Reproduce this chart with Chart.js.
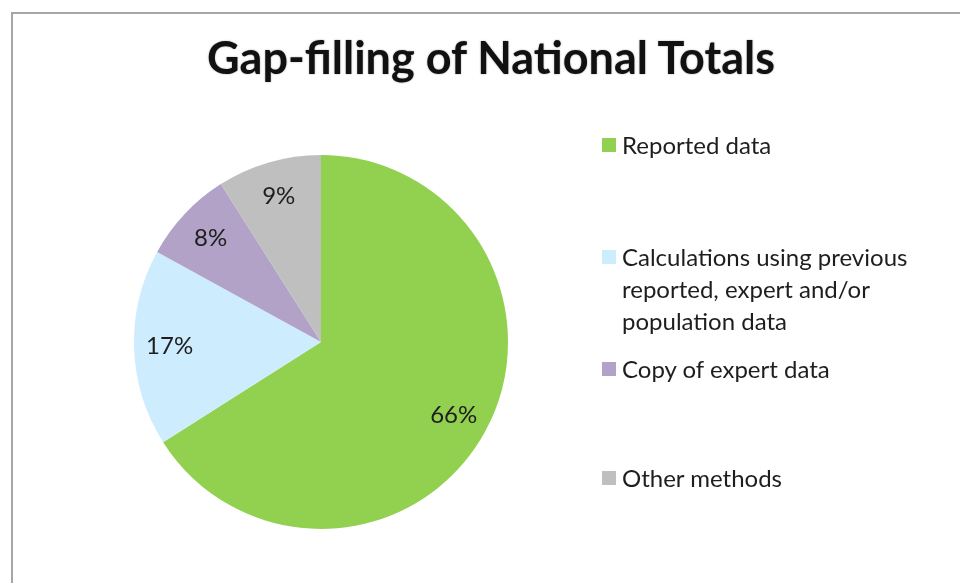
<!DOCTYPE html>
<html>
<head>
<meta charset="utf-8">
<script src="https://cdn.jsdelivr.net/npm/chart.js@4"></script>
<style>
  html, body { margin: 0; padding: 0; background: #fff; }
  #wrap { position: relative; width: 960px; height: 583px; overflow: hidden; }
  #frame { position: absolute; left: 11px; top: 12px; width: 960px; height: 600px;
           border-top: 2px solid #a6a6a6; border-left: 2px solid #a6a6a6; }
  #chart { position: absolute; left: 0; top: 0; }
  #title { position: absolute; left: 0; width: 982px; top: 30px; text-align: center;
           font: bold 45px "Lato", sans-serif; color: #111;
           text-shadow: 0 0 2px rgba(0,0,0,0.35); }
  #legend { position: absolute; left: 602px; top: 0; font: 24px "Lato", sans-serif; color: #1e1e1e; }
  .item { position: absolute; left: 0; width: 360px; line-height: 32px; }
  .item .box { position: absolute; left: 0; top: 9px; width: 14px; height: 14px; }
  .item .txt { position: absolute; left: 20px; white-space: nowrap; }
</style>
</head>
<body>
<div id="wrap">
  <div id="frame"></div>
  <canvas id="chart" width="960" height="583"></canvas>
  <div id="title">Gap-filling of National Totals</div>
  <div id="legend"></div>
</div>
<script>
const labels = [
  "Reported data",
  "Calculations using previous reported, expert and/or population data",
  "Copy of expert data",
  "Other methods"
];
const legendLines = [
  ["Reported data"],
  ["Calculations using previous", "reported, expert and/or", "population data"],
  ["Copy of expert data"],
  ["Other methods"]
];
const values = [66, 17, 8, 9];
const colors = ["#92d050", "#cdecfd", "#b3a2c7", "#bfbfbf"];
const legendTops = [129, 241, 353, 462];

// legend (HTML)
const legendBox = document.getElementById("legend");
legendLines.forEach((lines, i) => {
  const item = document.createElement("div");
  item.className = "item";
  item.style.top = legendTops[i] + "px";
  item.innerHTML = '<div class="box" style="background:' + colors[i] + '"></div>' +
    '<div class="txt">' + lines.join("<br>") + "</div>";
  legendBox.appendChild(item);
});

// percentage labels inside the slices
const sliceLabels = {
  id: "sliceLabels",
  afterDatasetsDraw(chart) {
    const ctx = chart.ctx;
    const meta = chart.getDatasetMeta(0);
    const total = values.reduce((a, b) => a + b, 0);
    ctx.save();
    ctx.font = '24px "Lato", sans-serif';
    ctx.fillStyle = "#1e1e1e";
    ctx.textAlign = "center";
    ctx.textBaseline = "middle";
    meta.data.forEach((arc, i) => {
      const p = arc.getProps(["x", "y", "startAngle", "endAngle", "outerRadius"], true);
      const mid = (p.startAngle + p.endAngle) / 2;
      const r = p.outerRadius * 0.81;
      const pct = Math.round(values[i] / total * 100) + "%";
      ctx.fillText(pct, p.x + Math.cos(mid) * r, p.y + Math.sin(mid) * r);
    });
    ctx.restore();
  }
};

new Chart(document.getElementById("chart"), {
  type: "pie",
  data: {
    labels: labels,
    datasets: [{
      data: values,
      backgroundColor: colors,
      borderWidth: 0
    }]
  },
  options: {
    responsive: false,
    animation: false,
    layout: { padding: { left: 134, right: 452, top: 155, bottom: 54 } },
    plugins: {
      legend: { display: false },
      title: { display: false },
      tooltip: { enabled: false }
    }
  },
  plugins: [sliceLabels]
});
</script>
</body>
</html>
